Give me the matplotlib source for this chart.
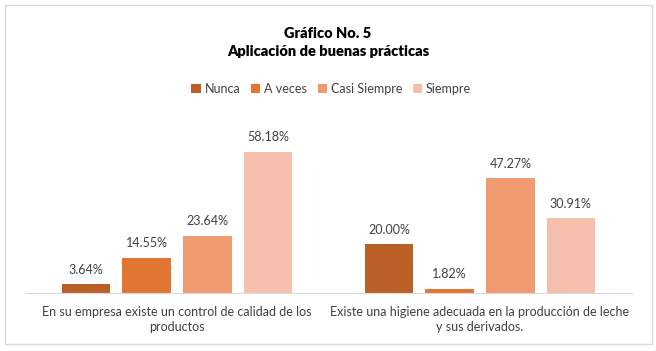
import matplotlib
matplotlib.use("Agg")
import matplotlib.pyplot as plt
import numpy as np
from matplotlib.patches import Rectangle

plt.rcParams['font.family'] = ['Lato', 'DejaVu Sans']

categories = ["En su empresa existe un control de calidad de los\nproductos",
              "Existe una higiene adecuada en la producción de leche\ny sus derivados."]
series_names = ["Nunca", "A veces", "Casi Siempre", "Siempre"]
nunca = [0.0364, 0.2000]
a_veces = [0.1455, 0.0182]
casi_siempre = [0.2364, 0.4727]
siempre = [0.5818, 0.3091]
colors = ['#BA5F26', '#E07632', '#F09A70', '#F5C0AE']

W, H = 656, 351
fig = plt.figure(figsize=(W / 100, H / 100), dpi=100)
fig.patches.append(Rectangle((5 / W, 1 - 344 / H), 647 / W, 339 / H, transform=fig.transFigure,
                             fill=False, edgecolor='#D9D9D9', linewidth=1))

ax = fig.add_axes([25.5 / W, 1 - 293 / H, 606 / W, 170 / H])
ind = np.arange(len(categories))
step = 0.2
width = 0.16
all_series = [nunca, a_veces, casi_siempre, siempre]
for i, (vals, name) in enumerate(zip(all_series, series_names)):
    bars = ax.bar(ind + (i - 1.5) * step, vals, width=width, color=colors[i], label=name)
    for b, v in zip(bars, vals):
        ax.annotate(f"{v * 100:.2f}%", (b.get_x() + b.get_width() / 2, v),
                    xytext=(0, 6), textcoords='offset points', ha='center', va='bottom',
                    fontsize=9, color='#404040')

ax.set_xlim(-0.5, 1.5)
ax.set_ylim(0, 0.70)
ax.set_yticks([])
ax.set_xticks(ind)
ax.set_xticklabels(categories, fontsize=9, color='#404040', linespacing=1.35)
ax.tick_params(axis='x', length=0, pad=9)
for s in ['top', 'left', 'right']:
    ax.spines[s].set_visible(False)
ax.spines['bottom'].set_color('#D9D9D9')

fig.text(0.5, 1 - 34 / H, "Gráfico No. 5", ha='center', va='center', fontsize=10.5,
         fontweight='heavy', color='#000000')
fig.text(0.5, 1 - 51 / H, "Aplicación de buenas prácticas", ha='center', va='center', fontsize=10.5,
         fontweight='heavy', color='#000000')

fig.legend(loc='center', bbox_to_anchor=(0.505, 1 - 89 / H), ncol=4, frameon=False,
           fontsize=9, handlelength=0.75, handleheight=0.75, handletextpad=0.3,
           columnspacing=0.85, labelcolor='#404040')

fig.savefig("out.png", dpi=100, facecolor='white')
